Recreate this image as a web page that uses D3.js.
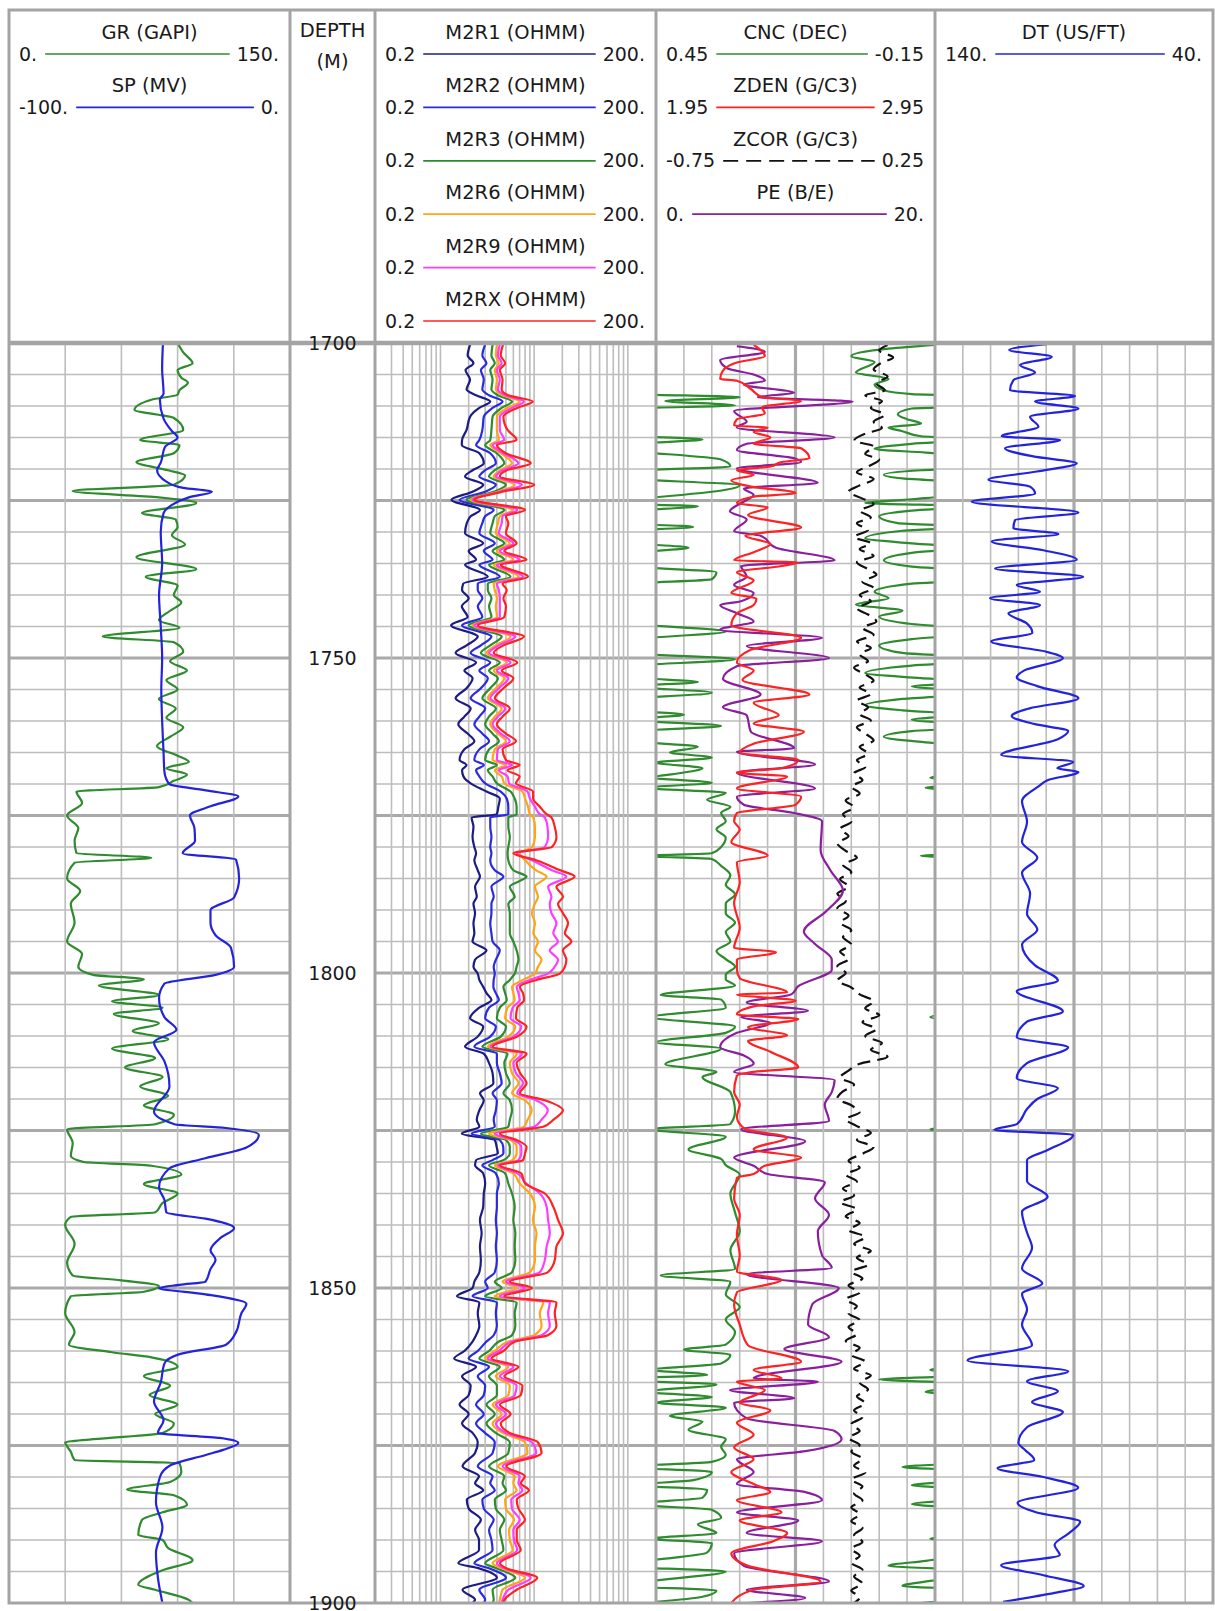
<!DOCTYPE html>
<html>
<head>
<meta charset="utf-8">
<script src="https://cdn.jsdelivr.net/npm/d3@7"></script>
<style>
  body { margin: 0; background: #ffffff; }
  svg text { font-family: "DejaVu Sans", Verdana, sans-serif; fill: #1a1a1a; }
</style>
</head>
<body>
<svg id="log" width="1215" height="1611"></svg>
<script>
// ---------------- Well log data (depth in metres, value in curve units) ----------------
const depthRange = [1700, 1900];
const depthLabels = [1700, 1750, 1800, 1850, 1900];

// Header text: curve names and scale end labels
const curveNames  = ["GR (GAPI)", "SP (MV)", "M2R1 (OHMM)", "M2R2 (OHMM)", "M2R3 (OHMM)", "M2R6 (OHMM)", "M2R9 (OHMM)", "M2RX (OHMM)", "CNC (DEC)", "ZDEN (G/C3)", "ZCOR (G/C3)", "PE (B/E)", "DT (US/FT)"];
const scaleLeft   = ["0.", "-100.", "0.2", "0.2", "0.2", "0.2", "0.2", "0.2", "0.45", "1.95", "-0.75", "0.", "140."];
const scaleRight  = ["150.", "0.", "200.", "200.", "200.", "200.", "200.", "200.", "-0.15", "2.95", "0.25", "20.", "40."];
const scaleDomain = [[0,150],[-100,0],[0.2,200],[0.2,200],[0.2,200],[0.2,200],[0.2,200],[0.2,200],[0.45,-0.15],[1.95,2.95],[-0.75,0.25],[0,20],[140,40]];

// Track 1
const GR = [[1700,90],[1701.5,93],[1703.2,98],[1704.3,90],[1705.5,92],[1706.3,95.5],[1707.5,91],[1708.2,90],[1709,76],[1710.6,67],[1711.9,88],[1713.8,93],[1715.4,70],[1716.2,91],[1717.5,88],[1718.9,68],[1720.2,85],[1721,94],[1722.5,88],[1723.5,34],[1724.5,80],[1725.4,100],[1727,71],[1728,89],[1729.2,90],[1730.5,87],[1732,94],[1734,68],[1735.9,100],[1737.1,73],[1738.5,90],[1740,88],[1741.2,92],[1742.5,86],[1744,80],[1745.2,91],[1746.6,50],[1747.5,88],[1749,93],[1750.5,86],[1752,95],[1753.5,84],[1755,90],[1756.5,80],[1758,89],[1759.5,84],[1761,93],[1762.5,86],[1764,79],[1765.5,90],[1766.5,96],[1767.5,84],[1768.5,95],[1769.5,88],[1770.5,80],[1771.2,36],[1773,39],[1775,31],[1777,37],[1779,35],[1781,36],[1781.7,76],[1782.5,35],[1785,31],[1787,38],[1789,33],[1792,35],[1795,31],[1797,39],[1799,37],[1800.3,45],[1801,72],[1802,48],[1803.5,80],[1804.5,55],[1805.5,82],[1806.5,56],[1808,80],[1809.2,66],[1810.5,85],[1812,55],[1813.5,78],[1815,62],[1816.5,82],[1818,70],[1819.5,85],[1821,72],[1822.5,88],[1824,78],[1824.8,31],[1827,34],[1829,33],[1830,40],[1830.6,76],[1832,92],[1833.5,72],[1835,90],[1836.5,82],[1838,78],[1838.7,33],[1840,30],[1843,35],[1846,31],[1848,34],[1848.8,60],[1849.7,80],[1850.6,72],[1851.3,33],[1854,30],[1857,35],[1859,32],[1860.2,55],[1861,76],[1862.5,90],[1864,72],[1865.5,86],[1867,75],[1868.5,90],[1870,78],[1871.5,88],[1873,82],[1874,45],[1874.5,30],[1876,33],[1877.3,35],[1877.8,91],[1879.2,92],[1880.8,86],[1882,63],[1882.9,88],[1884.4,95],[1885.6,82],[1886.8,71],[1889.2,69],[1890,82],[1891.3,85],[1893.2,98],[1894.8,82],[1897.1,69],[1897.9,78],[1899.5,96],[1900,98]];

const SP = [[1700,-45.2],[1704,-45.5],[1708,-45],[1709,-46.3],[1712,-45],[1714,-42],[1715,-40],[1716.5,-44.5],[1719,-46],[1720.2,-47.3],[1722,-44],[1723,-38],[1723.6,-27.8],[1724.5,-36],[1725.7,-42],[1727,-45],[1730,-46],[1735,-45.5],[1740,-46.6],[1745,-46],[1750,-45.5],[1755,-45.8],[1760,-45.5],[1765,-45],[1768,-44.7],[1770,-43],[1771,-30],[1772,-18.4],[1773.5,-28],[1775,-35.6],[1777,-34],[1779,-33.8],[1781,-38.2],[1782,-19.2],[1785,-18.1],[1788,-19.9],[1790,-28.3],[1792,-28.3],[1794,-26.5],[1796,-21],[1799,-19.9],[1800.3,-26.5],[1801.7,-44.7],[1804,-46.6],[1807,-44.7],[1809,-40.4],[1811,-48.4],[1814,-44.7],[1818,-42.9],[1822,-48.4],[1824,-41.1],[1824.6,-22.8],[1825.7,-11.1],[1827.7,-15.5],[1829.4,-30.1],[1831,-42.9],[1834,-46.6],[1836,-44.7],[1838,-44],[1839,-30.1],[1840.5,-19.9],[1842,-24.6],[1844,-28.3],[1845.5,-26.5],[1847,-28.3],[1849,-30.1],[1849.5,-39.3],[1850,-46.6],[1851,-30.1],[1852.5,-15.5],[1854,-17.3],[1857,-19.2],[1859,-22.8],[1860.5,-39.3],[1862,-44.7],[1865,-46],[1868,-48.4],[1871,-45],[1873,-47],[1873.8,-25],[1874.6,-18.4],[1875.7,-23.8],[1876.5,-30],[1878.1,-42.4],[1880,-46.3],[1884,-47.7],[1888,-45.4],[1892,-47.7],[1896,-47],[1900,-45.4]];

// Track 3: resistivity curves sampled at shared depths
const resDepth = [1700.3,1702,1703.2,1704.3,1705.8,1707.4,1708.3,1709.3,1710.3,1711.7,1713.8,1715.4,1716.2,1717.5,1719.1,1720.2,1721.2,1722.5,1723.6,1724.9,1726.5,1727.5,1728.6,1730.2,1731.8,1733,1734.4,1735.2,1737.1,1738.2,1739.2,1740.5,1741.8,1743.5,1744.8,1746.6,1748,1749.2,1750.7,1752,1753.2,1754.8,1756.4,1758,1759.3,1760.5,1762,1763.2,1764.5,1766.2,1767,1767.8,1768.8,1769.9,1771.2,1772.3,1773.6,1774.8,1775.3,1776.8,1778.4,1780,1781,1782.1,1783.7,1784.7,1786.3,1787.9,1789,1790.5,1792.1,1793.7,1795,1796.4,1797.9,1799,1800.1,1801.1,1802.2,1803.2,1804.3,1805.5,1807.2,1808.5,1810.1,1811.7,1812.8,1814.3,1815.9,1817.5,1819.1,1820.2,1821.8,1823.3,1824.4,1825.5,1826.5,1827.6,1828.6,1829.7,1830.5,1831.8,1833.4,1835,1837.1,1839.2,1841.3,1843.4,1845.6,1847.5,1849,1850,1851.3,1852.3,1854,1856,1857.5,1858.5,1860,1861.2,1862.5,1864,1865.5,1867,1868.5,1870,1871.5,1873,1874.5,1876.2,1878.3,1879.9,1881,1882.1,1883.6,1885,1886.8,1888.4,1890,1891.6,1893.7,1894.5,1896,1897.9,1899.5,1900];
const M2R1 = [2.07,1.95,2.25,1.85,2.07,1.9,2.4,3.4,2.6,2.07,1.9,1.7,1.69,2.6,2.9,2.2,1.83,2.86,2.2,1.31,2.64,2.1,1.91,1.83,2.86,2.0,2.4,1.83,3.2,1.75,1.7,2.0,1.69,1.95,1.3,2.5,1.9,1.45,2.4,1.8,2.2,1.9,1.45,2.1,1.8,1.55,1.95,2.3,1.8,1.6,1.9,1.7,1.76,2.1,3.1,4.3,4.15,4.0,2.15,2.25,2.2,2.3,2.4,2.3,2.5,2.64,2.34,2.44,2.25,2.34,2.25,2.3,2.2,3.1,2.34,2.25,2.5,2.6,2.86,3.1,3.5,2.6,2.07,2.86,2.5,1.83,2.9,3.3,3.6,3.67,2.64,2.9,2.6,2.44,2.6,1.69,3.8,3.98,4.1,2.4,2.34,2.86,3.0,2.9,2.86,2.64,2.75,2.64,2.7,2.6,2.3,2.2,1.5,2.6,2.5,2.6,2.4,2.2,1.8,1.4,2.4,1.7,2.1,2.0,1.6,2.0,1.7,2.2,2.5,2.34,1.72,2.58,2.34,2.86,1.91,2.0,2.7,2.34,2.58,2.58,1.55,2.58,4.0,1.72,2.34,2.2];
const M2R2 = [2.99,2.8,3.1,2.7,2.9,2.8,3.3,4.6,3.6,2.9,2.8,2.6,2.4,3.4,3.9,3.0,2.6,3.9,3.0,1.6,3.7,3.0,2.8,2.6,3.8,2.9,3.6,2.6,4.3,2.5,2.5,2.8,2.5,2.8,1.7,3.5,2.7,2.1,3.4,2.6,3.2,2.7,2.1,3.0,2.6,2.3,2.8,3.3,2.6,2.3,2.9,2.4,2.6,3.0,4.4,5.1,5.3,5.3,3.4,3.4,3.5,3.4,3.5,3.4,3.8,4.7,3.5,3.7,3.5,3.5,3.4,3.5,3.6,4.3,3.9,3.7,3.8,3.7,3.67,3.9,4.2,3.3,3.0,3.9,3.4,2.3,4.0,4.0,4.3,4.5,3.6,4.0,3.9,3.7,3.8,2.15,4.3,4.68,4.7,3.6,2.8,3.9,4.2,4.0,4.0,3.9,4.0,3.9,4.0,3.8,3.0,3.2,2.2,4.0,3.9,4.0,3.7,3.1,2.5,2.0,3.3,2.5,3.0,2.9,2.4,2.9,2.4,3.0,3.8,3.6,2.5,3.6,3.4,3.8,2.8,2.9,3.7,3.3,3.5,3.6,2.3,3.3,5.0,2.6,3.0,2.9];
const M2R3 = [3.6,3.5,3.8,3.4,3.6,3.5,4.1,5.8,4.5,3.6,3.5,3.4,3.0,4.0,4.8,3.8,3.3,5.0,3.7,1.9,4.8,3.8,3.6,3.4,4.8,3.6,4.8,3.3,5.6,3.2,3.2,3.5,3.3,3.5,2.0,4.5,3.4,2.7,4.3,3.3,4.1,3.4,2.8,3.9,3.3,3.0,3.6,4.2,3.3,3.0,4.0,3.2,3.6,4.0,5.6,6.2,6.5,6.5,5.3,5.3,5.5,5.3,5.2,5.3,6.0,8.3,5.5,6.2,5.3,5.5,5.5,5.5,6.0,6.5,6.8,6.5,6.2,5.5,4.7,4.9,5.1,4.3,4.0,5.0,4.4,2.8,5.2,4.8,5.0,5.5,4.7,5.5,5.8,5.5,5.3,2.7,5.0,5.5,5.5,4.7,3.3,4.9,5.3,5.8,6.2,6.0,6.3,6.2,6.3,5.8,3.8,4.5,3.0,6.5,6.2,6.3,5.8,4.2,3.3,2.6,4.3,3.3,4.0,4.0,3.1,3.8,3.1,3.9,5.5,5.3,3.3,4.8,4.6,5.0,3.8,3.9,4.8,4.3,4.5,4.7,3.0,4.0,6.3,3.6,3.7,3.6];
const M2R6 = [4.0,3.9,4.2,3.8,4.0,3.9,4.6,7.0,5.2,4.0,4.0,4.2,3.4,4.4,5.8,4.3,3.7,6.2,4.1,2.1,5.9,4.3,4.1,3.9,5.5,4.0,6.0,3.7,6.8,3.7,3.8,4.0,3.9,4.0,2.2,5.6,3.9,3.1,5.1,3.7,4.8,3.9,3.2,4.5,3.8,3.4,4.1,5.0,3.8,3.6,5.0,3.8,4.5,4.8,7.5,8.0,8.6,9.0,9.8,10.2,10.2,9.5,7.0,8.0,10.5,13.6,10.2,11.0,10.2,9.5,10.2,9.8,11.0,10.2,12.0,11.0,10.2,7.6,5.8,6.0,6.2,5.2,4.9,6.3,5.3,3.2,6.5,5.5,5.8,6.8,5.8,8.0,9.4,8.5,7.8,3.3,5.6,6.5,6.5,5.9,3.8,6.0,7.0,9.0,10.2,9.7,10.6,10.2,10.2,9.0,4.6,6.5,3.8,12.5,11.5,12.0,10.0,5.3,3.8,3.0,5.3,3.9,5.5,5.3,3.6,4.5,3.6,4.6,8.0,8.5,4.1,6.2,6.0,6.5,4.9,5.0,6.1,5.4,5.5,5.9,3.6,4.5,8.0,4.6,4.3,4.2];
const M2R9 = [4.3,4.1,4.5,4.0,4.3,4.1,4.9,7.8,5.8,4.3,4.3,4.8,3.6,4.7,6.8,4.6,3.9,7.4,4.3,2.2,6.6,4.6,4.5,4.2,6.0,4.3,7.0,4.0,7.6,4.0,4.2,4.3,4.3,4.3,2.3,6.3,4.2,3.3,5.6,4.0,5.3,4.2,3.4,4.9,4.1,3.6,4.4,5.5,4.1,4.0,5.8,4.2,5.2,5.4,8.5,9.0,10.2,11.5,13.0,13.9,14.1,13.0,6.5,9.5,15.5,22.1,14.1,15.3,14.7,15.3,17.3,16.0,18.0,14.7,18.0,16.6,14.0,9.0,6.5,6.8,7.0,5.9,5.6,7.3,6.0,3.4,7.4,6.0,6.4,7.6,6.6,10.5,14.0,12.0,10.0,3.8,6.0,7.3,7.3,6.8,4.1,6.6,8.2,11.5,13.6,14.1,14.7,13.6,13.0,11.5,5.0,8.0,4.3,14.7,14.1,14.7,12.0,5.8,4.2,3.2,6.0,4.3,6.5,6.2,3.9,5.0,3.9,5.0,9.5,10.5,4.6,7.0,6.8,7.5,5.7,5.8,7.0,6.0,6.1,6.6,4.0,4.8,9.2,5.3,4.6,4.5];
const M2RX = [4.65,4.4,4.9,4.3,4.6,4.5,5.3,9.7,6.6,4.7,5.2,6.5,4.0,5.0,9.2,5.1,4.3,10.0,4.6,2.3,8.0,5.0,5.3,5.0,6.5,4.8,8.3,4.4,8.6,4.6,5.1,4.7,5.0,4.8,2.5,7.8,4.7,3.7,6.6,4.5,6.0,4.7,3.8,5.5,4.6,4.0,5.0,6.4,4.6,5.0,7.0,5.2,7.0,6.4,9.75,9.75,11.5,13.6,15.3,16.6,17.3,15.5,6.0,10.5,19.0,27.1,17.3,20.3,18.0,20.3,23.0,21.3,25.0,20.3,22.1,21.3,18.8,10.6,7.05,7.6,7.8,6.6,6.4,8.3,6.6,3.6,8.3,6.5,7.1,8.3,7.05,13.0,20.3,16.0,12.5,4.3,6.5,8.3,8.0,7.6,4.32,7.3,8.0,13.0,16.0,18.0,20.3,17.3,16.6,14.0,5.5,9.5,4.8,17.3,16.6,17.3,14.0,6.3,4.7,3.5,6.8,4.8,7.5,7.2,4.3,5.6,4.4,5.5,11.0,12.0,5.05,7.97,7.2,8.8,6.52,6.8,7.97,6.52,6.52,7.2,4.32,5.05,10.8,6.52,4.82,4.7];

// Track 4
const CNC = [[1700.3,0.45],[1700.9,0.55],[1702.1,0.63],[1703,0.58],[1704.7,0.62],[1705.7,0.55],[1706.6,0.58],[1707.5,0.56],[1708.1,0.5],[1708.6,0.27],[1709.2,0.43],[1709.9,0.28],[1710.4,0.5],[1711.3,0.53],[1712.1,0.51],[1712.8,0.48],[1713.4,0.55],[1714,0.52],[1714.8,0.48],[1715.3,0.35],[1716,0.5],[1716.8,0.58],[1717.4,0.47],[1718.5,0.31],[1719.6,0.29],[1720.2,0.48],[1720.9,0.56],[1721.5,0.52],[1722.6,0.27],[1723.3,0.3],[1724.8,0.5],[1725.4,0.6],[1725.9,0.36],[1726.6,0.5],[1727.5,0.57],[1728.6,0.53],[1729.2,0.37],[1729.8,0.52],[1731,0.6],[1731.8,0.5],[1732.5,0.38],[1733.3,0.5],[1734.5,0.56],[1735.5,0.5],[1736.4,0.32],[1737.5,0.33],[1738.2,0.5],[1739.5,0.58],[1740.5,0.55],[1741.5,0.62],[1742.5,0.52],[1743.4,0.57],[1744.6,0.5],[1745.8,0.3],[1747,0.5],[1748,0.57],[1749.2,0.52],[1750.2,0.28],[1751.2,0.5],[1752.4,0.6],[1753.2,0.48],[1753.8,0.36],[1754.5,0.5],[1755.5,0.33],[1756.5,0.52],[1757.5,0.6],[1758.3,0.52],[1759,0.39],[1759.8,0.5],[1760.8,0.31],[1761.6,0.5],[1762.5,0.56],[1763.4,0.47],[1764.1,0.36],[1765,0.42],[1765.8,0.33],[1766.6,0.45],[1767.5,0.35],[1768.3,0.4],[1769,0.46],[1769.8,0.33],[1770.6,0.47],[1771.4,0.3],[1772.5,0.34],[1773.6,0.29],[1774.6,0.31],[1775.9,0.3],[1777.2,0.32],[1778.5,0.3],[1780,0.31],[1781,0.33],[1781.4,0.48],[1781.9,0.33],[1783,0.31],[1784.5,0.29],[1786,0.3],[1787.5,0.28],[1789,0.3],[1790.5,0.3],[1792,0.28],[1793.5,0.3],[1795,0.29],[1796.5,0.32],[1797.8,0.3],[1799,0.28],[1800.3,0.3],[1801,0.3],[1802,0.28],[1803.5,0.44],[1804.2,0.31],[1805.5,0.3],[1807,0.46],[1808.5,0.28],[1809.5,0.3],[1811,0.45],[1812,0.31],[1814.5,0.43],[1815.7,0.32],[1816.5,0.35],[1818.9,0.29],[1822,0.28],[1824,0.29],[1824.8,0.46],[1826,0.3],[1828,0.38],[1829.5,0.31],[1830.5,0.3],[1832,0.27],[1835,0.29],[1838,0.28],[1841,0.27],[1844,0.29],[1847,0.28],[1848,0.44],[1849,0.29],[1851,0.3],[1853,0.27],[1855,0.3],[1857,0.28],[1859,0.3],[1859.8,0.39],[1860.6,0.29],[1862,0.31],[1863,0.46],[1863.8,0.34],[1864.5,0.57],[1865.3,0.32],[1866.5,0.47],[1867.3,0.33],[1868.2,0.45],[1869,0.3],[1870.3,0.42],[1871.2,0.35],[1872.5,0.38],[1874,0.3],[1875.2,0.31],[1876.5,0.3],[1877.6,0.33],[1878.4,0.52],[1879.2,0.33],[1880.5,0.37],[1881.3,0.5],[1882,0.34],[1883.3,0.35],[1884.3,0.5],[1885.2,0.33],[1886.5,0.31],[1887.5,0.36],[1888.9,0.32],[1889.8,0.46],[1890.5,0.33],[1892,0.34],[1893.3,0.47],[1894.1,0.55],[1895,0.3],[1896.5,0.46],[1897.3,0.52],[1898,0.32],[1899,0.35],[1900,0.48]];

const ZDEN = [[1700.3,2.30],[1702.1,2.34],[1703.1,2.24],[1704.4,2.19],[1705.7,2.18],[1706,2.24],[1707.3,2.29],[1708.6,2.33],[1709.2,2.47],[1710.2,2.33],[1711.2,2.34],[1712.1,2.24],[1713.1,2.23],[1713.4,2.35],[1714.1,2.30],[1715,2.36],[1716,2.30],[1716.7,2.47],[1718.3,2.50],[1718.9,2.40],[1719.6,2.36],[1720.2,2.24],[1720.9,2.30],[1721.8,2.22],[1722.8,2.29],[1723.8,2.45],[1724.4,2.30],[1725.4,2.24],[1726.1,2.35],[1727.3,2.28],[1729.3,2.47],[1730.6,2.27],[1731.9,2.36],[1733.2,2.30],[1734.5,2.23],[1734.8,2.46],[1735.4,2.40],[1736.4,2.24],[1737.7,2.30],[1739.7,2.22],[1740.6,2.31],[1741.6,2.30],[1742.9,2.24],[1744.8,2.22],[1746.8,2.47],[1748.7,2.29],[1750.7,2.24],[1752,2.30],[1753.5,2.26],[1755.8,2.50],[1757.1,2.30],[1759.1,2.39],[1760.4,2.30],[1761.7,2.48],[1763.6,2.30],[1765,2.25],[1766.2,2.46],[1767.5,2.40],[1768.2,2.24],[1768.8,2.42],[1770.7,2.24],[1772,2.47],[1773.3,2.45],[1774.6,2.24],[1775.9,2.23],[1777.2,2.25],[1779.2,2.22],[1781.4,2.35],[1782.4,2.24],[1785.6,2.25],[1788.9,2.23],[1792.8,2.25],[1796,2.23],[1796.7,2.38],[1797.9,2.24],[1799.5,2.24],[1800.8,2.25],[1803.1,2.42],[1803.4,2.24],[1804.4,2.45],[1805.3,2.30],[1806.6,2.24],[1807.3,2.46],[1808.6,2.28],[1809.9,2.42],[1810.8,2.28],[1812.5,2.36],[1815,2.46],[1815.7,2.30],[1816.3,2.24],[1818.9,2.23],[1820.9,2.25],[1822.8,2.24],[1824.8,2.27],[1826.1,2.42],[1828,2.30],[1829.3,2.47],[1830.6,2.34],[1831.9,2.30],[1832.5,2.24],[1835.8,2.23],[1838.4,2.25],[1841.6,2.24],[1844.8,2.25],[1847.4,2.24],[1848.7,2.40],[1850.7,2.24],[1852.6,2.23],[1855.8,2.25],[1859.1,2.28],[1861.7,2.47],[1863,2.30],[1864.3,2.40],[1864.9,2.24],[1866.2,2.34],[1868.2,2.25],[1869.4,2.36],[1871.4,2.24],[1873.3,2.30],[1875.3,2.23],[1877.2,2.30],[1879.2,2.22],[1881.1,2.30],[1882.4,2.36],[1883.7,2.24],[1885.6,2.40],[1886.9,2.25],[1888.9,2.42],[1890.2,2.37],[1892.1,2.22],[1894.1,2.28],[1896.6,2.54],[1897.9,2.30],[1900,2.22]];

const ZCOR = [[1700.3,0.08],[1701.2,0.05],[1702.3,0.1],[1703.1,0.06],[1704.2,0.03],[1705.3,0.08],[1706.4,0.04],[1707.5,0.07],[1708.3,0.0],[1709.2,0.06],[1710.3,0.02],[1711.4,0.07],[1712.5,0.03],[1713.5,0.06],[1714.4,0.0],[1715.5,-0.04],[1716.4,0.03],[1717.6,0.0],[1718.5,0.05],[1719.6,0.01],[1720.5,-0.03],[1721.6,0.03],[1722.6,-0.02],[1723.6,-0.06],[1724.7,-0.01],[1725.6,0.03],[1726.6,-0.02],[1727.7,0.02],[1728.6,-0.03],[1729.7,0.01],[1730.8,-0.04],[1731.8,0.02],[1732.7,-0.02],[1733.8,0.03],[1734.8,-0.03],[1735.9,0.01],[1736.8,0.04],[1737.9,-0.01],[1738.9,0.03],[1740,-0.02],[1741,0.02],[1742.1,-0.03],[1743.1,0.01],[1744.2,0.04],[1745.2,-0.01],[1746.3,0.03],[1747.4,-0.03],[1748.4,0.02],[1749.4,-0.02],[1750.5,0.01],[1751.5,-0.04],[1752.6,0.0],[1753.6,0.03],[1754.7,-0.02],[1755.7,0.02],[1756.8,-0.03],[1757.8,0.01],[1758.9,-0.02],[1759.9,0.02],[1761,-0.03],[1762,0.0],[1763.1,0.03],[1764.1,-0.02],[1765.2,0.01],[1766.2,-0.03],[1767.3,0.0],[1768.3,-0.04],[1769.4,-0.01],[1770.4,-0.05],[1771.5,-0.02],[1772.6,-0.07],[1773.7,-0.04],[1774.8,-0.08],[1776,-0.05],[1777.1,-0.09],[1778.3,-0.06],[1779.4,-0.1],[1780.6,-0.07],[1781.7,-0.03],[1782.8,-0.08],[1784,-0.05],[1785.1,-0.09],[1786.3,-0.06],[1787.4,-0.1],[1788.6,-0.07],[1789.7,-0.1],[1790.9,-0.06],[1792,-0.09],[1793.2,-0.05],[1794.3,-0.08],[1795.5,-0.05],[1796.6,-0.09],[1797.8,-0.06],[1798.9,-0.1],[1800,-0.07],[1801.2,-0.1],[1802.3,-0.05],[1803.4,-0.02],[1804.5,0.03],[1805.6,0.0],[1806.7,0.05],[1807.8,-0.01],[1808.9,0.04],[1810,0.0],[1811.1,0.06],[1812.2,0.02],[1813.3,0.08],[1814.4,-0.02],[1815.5,-0.06],[1816.6,-0.09],[1817.7,-0.04],[1818.8,-0.08],[1819.9,-0.1],[1821,-0.05],[1822.1,-0.02],[1823.2,-0.07],[1824.3,-0.03],[1825.4,0.02],[1826.5,-0.03],[1827.6,0.03],[1828.7,-0.01],[1829.8,-0.06],[1830.9,-0.02],[1832,-0.07],[1833.1,-0.03],[1834.2,-0.08],[1835.3,-0.04],[1836.4,-0.09],[1837.5,-0.03],[1838.6,-0.07],[1839.7,-0.02],[1840.8,-0.06],[1841.9,0.0],[1843,-0.04],[1844.1,0.02],[1845.2,-0.03],[1846.3,0.01],[1847.4,-0.05],[1848.5,-0.01],[1849.6,-0.06],[1850.7,-0.02],[1851.8,-0.07],[1852.9,-0.03],[1854,-0.06],[1855.1,-0.02],[1856.2,-0.06],[1857.3,-0.03],[1858.4,-0.07],[1859.5,-0.02],[1860.6,-0.05],[1861.7,0.0],[1862.8,-0.04],[1863.9,0.02],[1865,-0.02],[1866.1,0.01],[1867.2,-0.03],[1868.3,0.0],[1869.4,-0.04],[1870.5,-0.01],[1871.6,-0.05],[1872.7,-0.02],[1873.8,-0.06],[1874.9,-0.02],[1876,-0.05],[1877.1,-0.01],[1878.2,-0.04],[1879.3,0.0],[1880.4,-0.05],[1881.5,-0.01],[1882.6,-0.04],[1883.7,-0.01],[1884.8,-0.05],[1885.9,-0.02],[1887,-0.05],[1888.1,-0.01],[1889.2,-0.04],[1890.3,-0.01],[1891.4,-0.05],[1892.5,-0.02],[1893.6,-0.05],[1894.7,-0.01],[1895.8,-0.04],[1896.9,-0.01],[1898,-0.05],[1899.1,-0.02],[1900,-0.04]];

const PE = [[1700.5,5.8],[1701.4,7.8],[1702.7,4.6],[1704,5.1],[1705,7.0],[1706,7.8],[1706.6,6.3],[1707.9,9.9],[1708.6,7.3],[1709.1,12.8],[1709.3,14.1],[1710.8,5.6],[1712.5,6.5],[1713.4,5.8],[1715,12.8],[1716,6.5],[1717,5.8],[1718.3,9.9],[1718.9,10.4],[1719.9,5.8],[1722.2,11.6],[1723.1,6.3],[1724.1,7.0],[1725.4,6.1],[1726.7,5.3],[1728,6.5],[1729.9,5.6],[1730.6,7.5],[1732.5,8.6],[1734.5,12.8],[1735.4,6.1],[1737.1,6.5],[1738.4,5.6],[1739.7,7.0],[1741,6.1],[1741.6,4.6],[1742.9,5.8],[1744.2,7.0],[1745.5,4.6],[1746.8,11.9],[1748.1,6.5],[1750,12.4],[1751.3,5.8],[1753.3,4.8],[1755.8,7.5],[1757.8,4.8],[1759.1,6.5],[1761.7,6.8],[1764.3,9.9],[1764.9,5.8],[1766.9,11.4],[1768.2,5.8],[1770.7,11.4],[1772,5.8],[1773.3,6.3],[1774.6,9.9],[1775.9,11.9],[1780.5,11.8],[1783.7,12.5],[1786.9,13.4],[1790.2,12.2],[1793.4,10.6],[1795.4,11.4],[1797.9,12.6],[1799.5,12.6],[1802.1,10.2],[1803.4,9.7],[1804.7,6.5],[1806,10.9],[1807,6.1],[1807.9,8.2],[1809.5,5.8],[1811.8,4.6],[1813.1,6.3],[1814.4,7.0],[1815.7,5.6],[1817,12.8],[1818.9,12.6],[1820.9,12.1],[1823.5,12.4],[1824.8,6.1],[1826.7,10.7],[1829.3,5.6],[1830.6,7.0],[1831.9,8.0],[1833.2,12.1],[1835.8,11.4],[1838.4,12.4],[1841,11.6],[1844.8,11.9],[1846.8,12.6],[1847.8,6.5],[1850,13.1],[1852.6,11.2],[1855.8,10.9],[1857.8,12.4],[1859.7,9.2],[1861.7,13.3],[1864.3,7.0],[1864.9,11.6],[1866.2,5.3],[1867.5,9.9],[1868.2,5.6],[1870.7,6.5],[1872.7,12.8],[1874,13.3],[1875.9,10.7],[1877.2,5.8],[1879.2,7.0],[1881.1,5.8],[1882.4,10.7],[1883.7,11.9],[1885.6,5.8],[1886.9,10.2],[1888.9,6.5],[1890.2,11.9],[1892.1,5.6],[1894.1,6.3],[1896.6,12.4],[1897.9,6.5],[1899.2,10.7],[1900,6.5]];

// Track 5
const DT = [[1700.2,99.8],[1701.1,113.3],[1702.2,98],[1703.5,109.4],[1704.7,104],[1705.9,111.8],[1707.5,113],[1708.4,89.6],[1709.3,104],[1710.4,88.4],[1711.7,105.8],[1713.3,102.8],[1714.8,116],[1715.4,95],[1716.7,114.8],[1718,104.7],[1719.1,89],[1720.4,103.4],[1721.7,120.8],[1722.8,105.8],[1723.9,104],[1725.2,126.8],[1726.9,88.4],[1728.1,111.2],[1729.4,111.8],[1730.3,95.6],[1731.5,119.6],[1732.9,101],[1734.4,89],[1735.8,118.4],[1737.1,86.7],[1738.4,110.6],[1739.5,102.2],[1740.5,120.2],[1741.6,102.2],[1742.9,113.6],[1744.5,107],[1746,105],[1747.4,119.8],[1749,100],[1750,94],[1752,108],[1753.1,110.6],[1754.5,103],[1756.4,88.4],[1758,106],[1759.2,112.4],[1760.5,104],[1761.6,92.1],[1762.9,95.8],[1765.4,116.2],[1766.5,90.3],[1767.5,96],[1768.1,88.4],[1769.4,99.5],[1770.3,102.5],[1772.7,108.7],[1776,106.9],[1779.2,108.7],[1781.7,103.2],[1784.1,108.7],[1787.4,105.8],[1790.6,106.9],[1793.1,103.2],[1795.5,108.7],[1798.8,104],[1801.2,95.8],[1802.9,110.6],[1806.1,94],[1807.7,106.9],[1810.2,110.6],[1811.8,92.1],[1814.3,106.9],[1816.7,110.6],[1818.3,95.8],[1820,103.2],[1821.6,106.9],[1824,110.6],[1824.9,118.7],[1825.7,90.3],[1828.1,99.5],[1829.7,106.9],[1833,106.9],[1835.5,99.5],[1837.9,108.7],[1841.2,106.9],[1843.6,105.1],[1846.9,108.7],[1849.3,101.4],[1850.9,108.7],[1853.4,106.9],[1855.8,108.7],[1859.1,105.1],[1861.5,128.3],[1863.2,92.1],[1864.8,106.9],[1866.4,95.8],[1868.1,105.1],[1869.7,94],[1872.1,106.9],[1874.6,110],[1875.7,107.6],[1877.3,104.3],[1878.6,117.5],[1880,101],[1881.7,88.5],[1884.1,110.3],[1885.6,103.7],[1887.1,87.8],[1888.9,91.8],[1890.8,97],[1892.4,95.1],[1894,116.2],[1895.6,101],[1897.3,86.5],[1898.4,97],[1899.8,115.5]];

// ---------------- Layout ----------------
const TOP = 10, HEAD = 343, BOTTOM = 1603;
const tracks = [
  { x0: 9,   x1: 290 },   // GR / SP
  { x0: 290, x1: 375 },   // depth
  { x0: 375, x1: 656 },   // resistivity (log)
  { x0: 656, x1: 935 },   // density / neutron
  { x0: 935, x1: 1213 }   // sonic
];
const GRID_THIN = "#bdbdbd", GRID_THICK = "#a9a9a9", FRAME = "#a4a4a4";
const TITLE_FONT = 19.5, VALUE_FONT = 19;
const ROW0 = 54, ROW_STEP = 53.4;

const svg = d3.select("#log");
const y = d3.scaleLinear().domain(depthRange).range([HEAD, BOTTOM]);

// Curve configuration: index into the header arrays, track, header slot, look
const resCols = [M2R1, M2R2, M2R3, M2R6, M2R9, M2RX];
const resSeries = resCols.map(col => resDepth.map((d, i) => [d, col[i]]));

const curves = [
  { i: 0,  data: GR,           track: 0, slot: 0, color: "#2e8b2e" },
  { i: 1,  data: SP,           track: 0, slot: 1, color: "#2323dc" },
  { i: 2,  data: resSeries[0], track: 2, slot: 0, color: "#1c1c84", log: true },
  { i: 3,  data: resSeries[1], track: 2, slot: 1, color: "#2a2ae0", log: true },
  { i: 4,  data: resSeries[2], track: 2, slot: 2, color: "#2e8b2e", log: true },
  { i: 5,  data: resSeries[3], track: 2, slot: 3, color: "#ffa515", log: true },
  { i: 6,  data: resSeries[4], track: 2, slot: 4, color: "#ff3cff", log: true },
  { i: 7,  data: resSeries[5], track: 2, slot: 5, color: "#ff2222", log: true },
  { i: 8,  data: CNC,          track: 3, slot: 0, color: "#2e8b2e", wrap: true },
  { i: 10, data: ZCOR,         track: 3, slot: 2, color: "#111111", dash: "13,7" },
  { i: 11, data: PE,           track: 3, slot: 3, color: "#8a1f9e" },
  { i: 9,  data: ZDEN,         track: 3, slot: 1, color: "#ff2222" },
  { i: 12, data: DT,           track: 4, slot: 0, color: "#2323dc" }
];

function xScale(c) {
  const t = tracks[c.track];
  const s = c.log ? d3.scaleLog() : d3.scaleLinear();
  return s.domain(scaleDomain[c.i]).range([t.x0, t.x1]);
}

// ---------------- Clip paths ----------------
const defs = svg.append("defs");
tracks.forEach((t, k) => {
  defs.append("clipPath").attr("id", "clip" + k)
    .append("rect").attr("x", t.x0).attr("y", HEAD).attr("width", t.x1 - t.x0).attr("height", BOTTOM - HEAD);
});

// ---------------- Grid ----------------
const grid = svg.append("g").attr("class", "grid");
const depthLines = d3.range(depthRange[0] + 5, depthRange[1], 5);
[0, 2, 3, 4].forEach(k => {
  const t = tracks[k];
  grid.selectAll(null).data(depthLines).enter().append("line")
    .attr("x1", t.x0).attr("x2", t.x1)
    .attr("y1", d => y(d)).attr("y2", d => y(d))
    .attr("stroke", d => d % 25 === 0 ? GRID_THICK : GRID_THIN)
    .attr("stroke-width", d => d % 25 === 0 ? 3.2 : 1.6);
});

function vLines(xs) {
  grid.selectAll(null).data(xs).enter().append("line")
    .attr("x1", d => d.x).attr("x2", d => d.x)
    .attr("y1", HEAD).attr("y2", BOTTOM)
    .attr("stroke", d => d.thick ? GRID_THICK : GRID_THIN)
    .attr("stroke-width", d => d.thick ? 3.2 : 1.6);
}
// Linear tracks
const lin0 = d3.scaleLinear().domain([0, 5]).range([tracks[0].x0, tracks[0].x1]);
vLines(d3.range(1, 5).map(i => ({ x: lin0(i), thick: false })));
[3, 4].forEach(k => {
  const s = d3.scaleLinear().domain([0, 10]).range([tracks[k].x0, tracks[k].x1]);
  vLines(d3.range(1, 10).map(i => ({ x: s(i), thick: i === 5 })));
});
// Logarithmic track
const logGrid = d3.scaleLog().domain([0.2, 200]).range([tracks[2].x0, tracks[2].x1]);
vLines(logGrid.ticks().filter(v => v > 0.2 && v < 200).map(v => ({ x: logGrid(v), thick: false })));

// ---------------- Curves ----------------
const plot = svg.append("g").attr("class", "curves");
curves.forEach(c => {
  const sx = xScale(c);
  const g = plot.append("g").attr("clip-path", `url(#clip${c.track})`);
  const offsets = [0];
  if (c.wrap) offsets.push(scaleDomain[c.i][0] - scaleDomain[c.i][1]);
  offsets.forEach(off => {
    const line = d3.line()
      .curve(d3.curveMonotoneY)
      .x(d => sx(d[1] - off)).y(d => y(d[0]));
    g.append("path").datum(c.data)
      .attr("d", line)
      .attr("fill", "none")
      .attr("stroke", c.color)
      .attr("stroke-width", 2.2)
      .attr("stroke-linejoin", "round")
      .attr("stroke-dasharray", c.dash || null);
  });
});

// ---------------- Header ----------------
const head = svg.append("g").attr("class", "header");
curves.forEach(c => {
  const t = tracks[c.track];
  const ly = ROW0 + ROW_STEP * c.slot;
  head.append("text").attr("x", (t.x0 + t.x1) / 2).attr("y", ly - 15)
    .attr("text-anchor", "middle").attr("font-size", TITLE_FONT).text(curveNames[c.i]);
  const lt = head.append("text").attr("x", t.x0 + 10).attr("y", ly + 6.5)
    .attr("font-size", VALUE_FONT).text(scaleLeft[c.i]);
  const rt = head.append("text").attr("x", t.x1 - 11).attr("y", ly + 6.5)
    .attr("text-anchor", "end").attr("font-size", VALUE_FONT).text(scaleRight[c.i]);
  const lEnd = t.x0 + 10 + lt.node().getComputedTextLength();
  const rStart = t.x1 - 11 - rt.node().getComputedTextLength();
  head.append("line").attr("x1", lEnd + 8).attr("x2", rStart - 7)
    .attr("y1", ly).attr("y2", ly)
    .attr("stroke", c.color).attr("stroke-width", 1.7)
    .attr("stroke-dasharray", c.dash ? "15,8" : null);
});
// Depth track header
const dt = tracks[1], dcx = (dt.x0 + dt.x1) / 2;
head.append("text").attr("x", dcx).attr("y", 37).attr("text-anchor", "middle").attr("font-size", TITLE_FONT).text("DEPTH");
head.append("text").attr("x", dcx).attr("y", 68).attr("text-anchor", "middle").attr("font-size", TITLE_FONT).text("(M)");

// ---------------- Frame ----------------
const frame = svg.append("g").attr("class", "frame");
frame.append("rect").attr("x", tracks[0].x0).attr("y", TOP)
  .attr("width", tracks[4].x1 - tracks[0].x0).attr("height", BOTTOM - TOP)
  .attr("fill", "none").attr("stroke", FRAME).attr("stroke-width", 3);
tracks.slice(1).forEach(t => {
  frame.append("line").attr("x1", t.x0).attr("x2", t.x0).attr("y1", TOP).attr("y2", BOTTOM)
    .attr("stroke", FRAME).attr("stroke-width", 3);
});
frame.append("line").attr("x1", tracks[0].x0).attr("x2", tracks[4].x1)
  .attr("y1", HEAD).attr("y2", HEAD).attr("stroke", FRAME).attr("stroke-width", 4.5);

// ---------------- Depth labels ----------------
svg.append("g").selectAll("text").data(depthLabels).enter().append("text")
  .attr("x", dcx).attr("y", d => y(d)).attr("dy", "0.36em")
  .attr("text-anchor", "middle").attr("font-size", 19).text(d => d);
</script>
</body>
</html>
